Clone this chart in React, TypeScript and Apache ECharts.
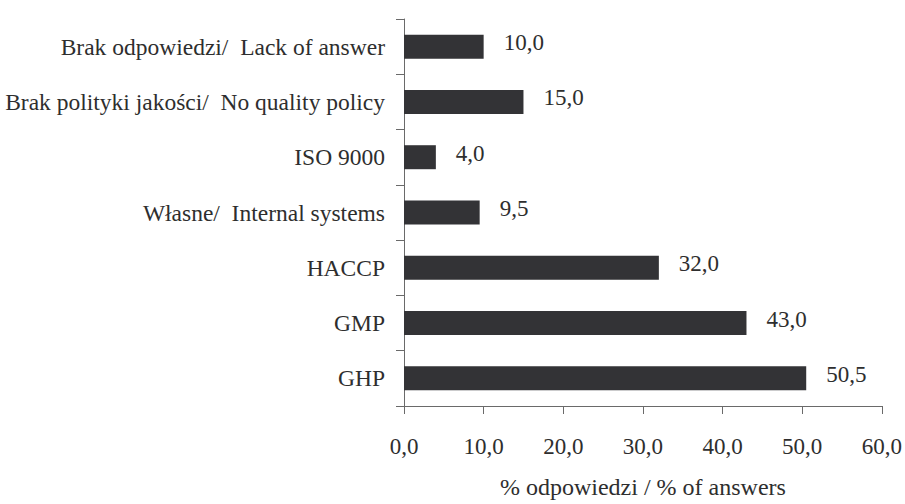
import React, { useEffect, useRef } from "react";
import * as echarts from "echarts";

// Quality systems in use, bottom-to-top order as ECharts draws category axes upward
const categories = [
  "GHP",
  "GMP",
  "HACCP",
  "Własne/  Internal systems",
  "ISO 9000",
  "Brak polityki jakości/  No quality policy",
  "Brak odpowiedzi/  Lack of answer",
];
const shares = [50.5, 43.0, 32.0, 9.5, 4.0, 15.0, 10.0];
const axisTitle = "% odpowiedzi / % of answers";

const FONT = "'Liberation Serif', 'Times New Roman', Times, serif";
const INK = "#2e2e2e";
const AXIS = "#6a6a6a";
const fmt = (v: number) => v.toFixed(1).replace(".", ",");

export default function App() {
  const ref = useRef<HTMLDivElement>(null);

  useEffect(() => {
    if (!ref.current) return;
    const chart = echarts.init(ref.current, undefined, { renderer: "svg" });
    chart.setOption({
      animation: false,
      backgroundColor: "#ffffff",
      textStyle: { fontFamily: FONT },
      grid: { left: 404, right: 23, top: 19, bottom: 92, containLabel: false },
      xAxis: {
        type: "value",
        min: 0,
        max: 60,
        interval: 10,
        name: axisTitle,
        nameLocation: "middle",
        nameGap: 69,
        nameTextStyle: { fontFamily: FONT, fontSize: 24, color: INK },
        axisLine: { show: true, lineStyle: { color: AXIS, width: 1 } },
        axisTick: { show: true, length: 8, lineStyle: { color: AXIS } },
        axisLabel: {
          fontFamily: FONT,
          fontSize: 23,
          color: INK,
          margin: 29,
          formatter: (v: number) => fmt(v),
        },
        splitLine: { show: false },
      },
      yAxis: {
        type: "category",
        data: categories,
        axisLine: { show: true, lineStyle: { color: AXIS, width: 1 } },
        axisTick: { show: true, length: 8, lineStyle: { color: AXIS } },
        axisLabel: {
          fontFamily: FONT,
          fontSize: 23.5,
          color: INK,
          margin: 19,
        },
      },
      series: [
        {
          type: "bar",
          data: shares,
          barWidth: 24,
          itemStyle: { color: "#333336" },
          label: {
            show: true,
            position: "right",
            distance: 20,
            offset: [0, -4],
            fontFamily: FONT,
            fontSize: 23,
            color: INK,
            formatter: (p: any) => fmt(p.value),
          },
        },
      ],
    });
    return () => chart.dispose();
  }, []);

  return (
    <div
      ref={ref}
      style={{ position: "fixed", left: 0, top: 0, width: 905, height: 504 }}
    />
  );
}
